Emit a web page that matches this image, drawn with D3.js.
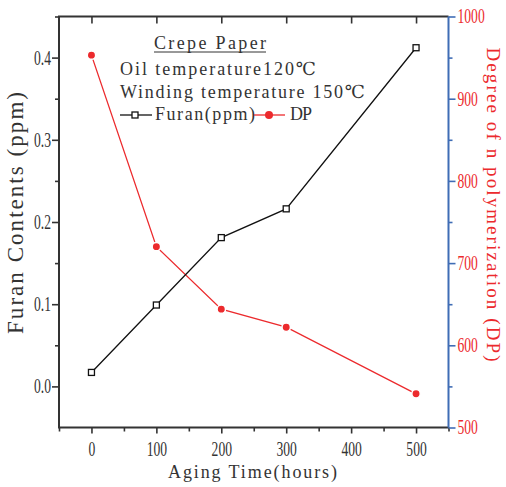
<!DOCTYPE html>
<html>
<head>
<meta charset="utf-8">
<script src="https://cdn.jsdelivr.net/npm/d3@7/dist/d3.min.js"></script>
<style>
  html, body { margin: 0; padding: 0; background: #fff; }
  svg { display: block; }
  text { font-family: "Liberation Serif", "DejaVu Serif", serif; }
</style>
</head>
<body>
<svg id="chart" width="506" height="487"></svg>
<script>
// Aging time (hours)
const agingHours = [0, 100, 200, 300, 500];
// Furan content (ppm), left axis
const furanPpm = [0.017, 0.099, 0.181, 0.216, 0.412];
// Degree of polymerization, right axis
const dpValues = [953, 720, 644, 622, 541];

const xTicks = [0, 100, 200, 300, 400, 500];
const xMinorTicks = [-50, 50, 150, 250, 350, 450, 550];
const furanTicks = [0.0, 0.1, 0.2, 0.3, 0.4];
const furanMinorTicks = [0.05, 0.15, 0.25, 0.35, 0.45];
const dpTicks = [500, 600, 700, 800, 900, 1000];
const dpMinorTicks = [550, 650, 750, 850, 950];

const INK = "#333333";
const RED = "#ec2a2d";
const BLUE = "#3f6db5";

const svg = d3.select("#chart");
const plotL = 59, plotR = 448.5, plotT = 16.5, plotB = 427.5;

const x = d3.scaleLinear().domain([-50, 550]).range([plotL, plotR]);
const yL = d3.scaleLinear().domain([-0.05, 0.45]).range([plotB, plotT]);
const yR = d3.scaleLinear().domain([500, 1000]).range([plotB, plotT]);

// narrow the serif digits used on the tick labels
function condense(sel, factor) {
  sel.each(function () {
    const w = this.getComputedTextLength();
    d3.select(this).attr("textLength", w * factor).attr("lengthAdjust", "spacingAndGlyphs");
  });
}

function styleAxis(g, color) {
  g.select(".domain").remove();
  g.selectAll("line").attr("stroke", color).attr("stroke-width", 1.6);
}

// bottom axis
const gxMinor = svg.append("g").attr("transform", `translate(0,${plotB})`)
  .call(d3.axisBottom(x).tickValues(xMinorTicks).tickSize(4).tickFormat(""));
styleAxis(gxMinor, INK);
const gx = svg.append("g").attr("transform", `translate(0,${plotB})`)
  .call(d3.axisBottom(x).tickValues(xTicks).tickSize(6).tickPadding(8).tickFormat(d3.format("d")));
styleAxis(gx, INK);
gx.selectAll("text").attr("fill", INK).style("font-size", "20px").call(condense, 0.68);

// top axis, inward ticks only
const gxTop = svg.append("g").attr("transform", `translate(0,${plotT})`)
  .call(d3.axisBottom(x).tickValues(xTicks).tickSize(7).tickFormat(""));
styleAxis(gxTop, INK);

// left axis
const gyMinor = svg.append("g").attr("transform", `translate(${plotL},0)`)
  .call(d3.axisLeft(yL).tickValues(furanMinorTicks).tickSize(4).tickFormat(""));
styleAxis(gyMinor, INK);
const gy = svg.append("g").attr("transform", `translate(${plotL},0)`)
  .call(d3.axisLeft(yL).tickValues(furanTicks).tickSize(7).tickPadding(1).tickFormat(d3.format(".1f")));
styleAxis(gy, INK);
gy.selectAll("text").attr("fill", INK).style("font-size", "20px").call(condense, 0.68);

// right axis
const gyRMinor = svg.append("g").attr("transform", `translate(${plotR},0)`)
  .call(d3.axisRight(yR).tickValues(dpMinorTicks).tickSize(4).tickFormat(""));
styleAxis(gyRMinor, BLUE);
const gyR = svg.append("g").attr("transform", `translate(${plotR},0)`)
  .call(d3.axisRight(yR).tickValues(dpTicks).tickSize(7).tickPadding(2).tickFormat(d3.format("d")));
styleAxis(gyR, BLUE);
gyR.selectAll("text").attr("fill", RED).style("font-size", "20px").call(condense, 0.68);

// frame
svg.append("path")
  .attr("d", `M${plotR},${plotT}H${plotL}V${plotB}H${plotR}`)
  .attr("fill", "none").attr("stroke", INK).attr("stroke-width", 2);
svg.append("line")
  .attr("x1", plotR).attr("x2", plotR).attr("y1", plotT).attr("y2", plotB)
  .attr("stroke", BLUE).attr("stroke-width", 2);

// DP series
const dpData = agingHours.map((h, i) => ({ h, v: dpValues[i] }));
svg.append("path").datum(dpData)
  .attr("fill", "none").attr("stroke", RED).attr("stroke-width", 1.3)
  .attr("d", d3.line().x(d => x(d.h)).y(d => yR(d.v)));
svg.append("g").selectAll("circle").data(dpData).join("circle")
  .attr("cx", d => x(d.h)).attr("cy", d => yR(d.v)).attr("r", 4.2)
  .attr("fill", RED).attr("stroke", "#fff").attr("stroke-width", 1.5);

// Furan series
const furanData = agingHours.map((h, i) => ({ h, v: furanPpm[i] }));
svg.append("path").datum(furanData)
  .attr("fill", "none").attr("stroke", "#111").attr("stroke-width", 1.3)
  .attr("d", d3.line().x(d => x(d.h)).y(d => yL(d.v)));
svg.append("g").selectAll("rect").data(furanData).join("rect")
  .attr("x", d => x(d.h) - 3).attr("y", d => yL(d.v) - 3)
  .attr("width", 6).attr("height", 6)
  .attr("fill", "#fff").attr("stroke", "#111").attr("stroke-width", 1.3);

// axis titles
svg.append("text")
  .attr("transform", `translate(23,${(92 + 334) / 2}) rotate(-90)`)
  .attr("text-anchor", "middle").attr("fill", INK)
  .style("font-size", "23px")
  .attr("textLength", 242).attr("lengthAdjust", "spacing")
  .text("Furan Contents (ppm)");

svg.append("text")
  .attr("transform", `translate(487,${(47 + 362) / 2}) rotate(90)`)
  .attr("text-anchor", "middle").attr("fill", RED)
  .style("font-size", "19px")
  .attr("textLength", 314).attr("lengthAdjust", "spacing")
  .text("Degree of n  polymerization (DP)");

svg.append("text")
  .attr("x", 168).attr("y", 478).attr("fill", INK)
  .style("font-size", "18px")
  .attr("textLength", 169).attr("lengthAdjust", "spacing")
  .text("Aging Time(hours)");

// annotation block
const note = svg.append("g").attr("fill", INK).style("font-size", "18px");
note.append("text").attr("x", 154).attr("y", 49)
  .attr("textLength", 112).attr("lengthAdjust", "spacing")
  .text("Crepe Paper");
note.append("line").attr("x1", 154).attr("x2", 266).attr("y1", 52).attr("y2", 52)
  .attr("stroke", INK).attr("stroke-width", 1);
note.append("text").attr("x", 120).attr("y", 75)
  .attr("textLength", 196).attr("lengthAdjust", "spacing")
  .text("Oil temperature120\u2103");
note.append("text").attr("x", 120).attr("y", 98)
  .attr("textLength", 245).attr("lengthAdjust", "spacing")
  .text("Winding temperature 150\u2103");

// legend
const legY = 115;
const leg = svg.append("g");
leg.append("line").attr("x1", 120).attr("x2", 152).attr("y1", legY).attr("y2", legY)
  .attr("stroke", "#111").attr("stroke-width", 1.3);
leg.append("rect").attr("x", 132).attr("y", legY - 3).attr("width", 6).attr("height", 6)
  .attr("fill", "#fff").attr("stroke", "#111").attr("stroke-width", 1.3);
leg.append("text").attr("x", 155).attr("y", 120).attr("fill", INK).style("font-size", "18px")
  .attr("textLength", 100).attr("lengthAdjust", "spacing")
  .text("Furan(ppm)");
leg.append("line").attr("x1", 254).attr("x2", 285).attr("y1", legY).attr("y2", legY)
  .attr("stroke", RED).attr("stroke-width", 1.3);
leg.append("circle").attr("cx", 269).attr("cy", legY).attr("r", 4)
  .attr("fill", RED);
leg.append("text").attr("x", 290).attr("y", 120).attr("fill", INK).style("font-size", "18px")
  .attr("textLength", 22).attr("lengthAdjust", "spacing")
  .text("DP");
</script>
</body>
</html>
